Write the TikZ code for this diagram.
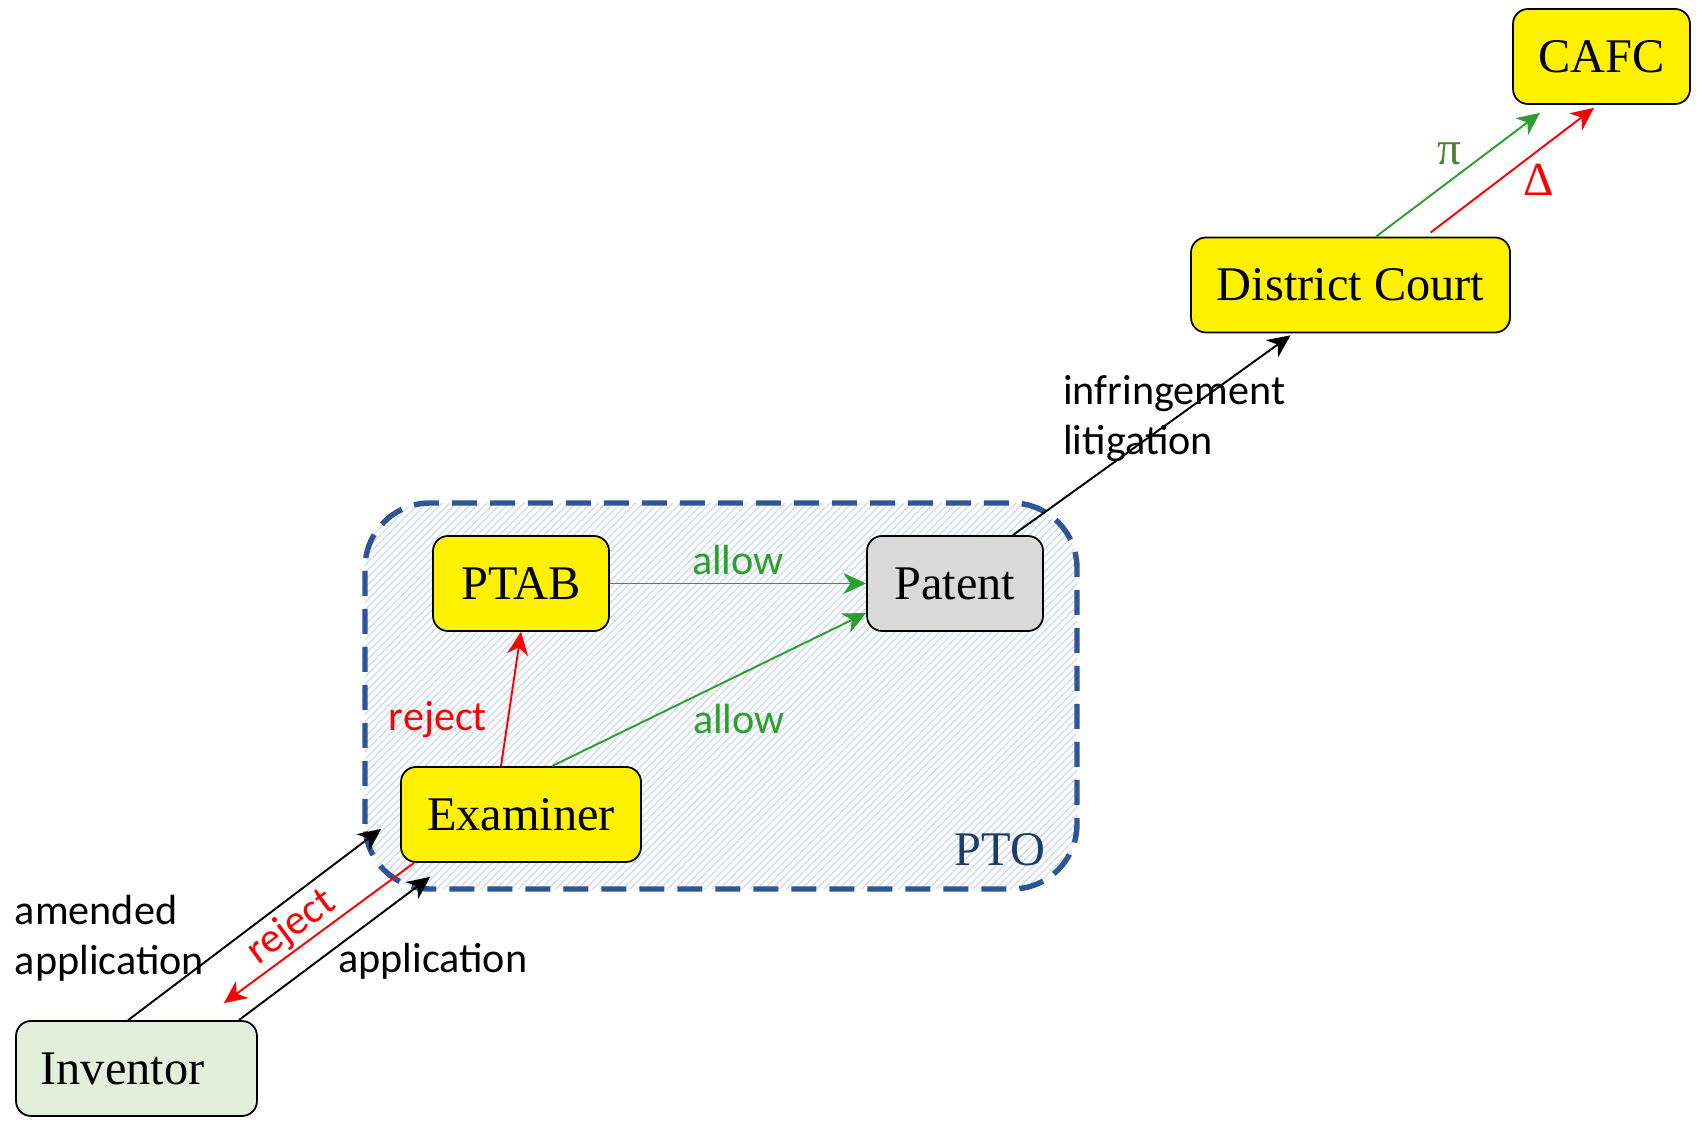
\documentclass[tikz,border=0pt]{standalone}
\usepackage{fontspec}
\setmainfont{Liberation Serif}
\newfontfamily\calfont{Carlito}
\usetikzlibrary{arrows.meta, positioning, patterns.meta}
\definecolor{ptoblue}{HTML}{2F5597}
\definecolor{ptonavy}{HTML}{1F3A6E}
\definecolor{hatchblue}{HTML}{CFDCF0}
\definecolor{okgreen}{HTML}{2CA02C}
\definecolor{pigreen}{HTML}{548235}
\definecolor{invgreen}{HTML}{E2EFDA}
\definecolor{patgray}{HTML}{D9D9D9}

\begin{document}
\begin{tikzpicture}[
        on grid, >={Stealth[length=13pt,width=12pt,inset=4pt]},
        box/.style={draw, line width=1pt, rounded corners=0.3cm, fill=yellow,
          minimum height=1.9cm, font=\fontsize{27.5}{33}\selectfont},
        lbl/.style={inner sep=0pt, font=\calfont\fontsize{24}{28.5}\selectfont},
        flow/.style={->, line width=1.1pt}
        ]
        \useasboundingbox (0,0) rectangle (34.06,22.48);

        % PTO region
        \path[fill=white, pattern={Lines[angle=45,distance=3pt,line width=0.8pt]}, pattern color=hatchblue,
          rounded corners=1.3cm] (7.3,4.7) rectangle (21.54,12.42);
        \draw[ptoblue, line width=3.1pt, dash pattern=on 0.5cm off 0.26cm, rounded corners=1.3cm]
          (7.3,4.7) rectangle (21.54,12.42);
        \node[text=ptonavy, font=\fontsize{27.5}{33}\selectfont] (pto) at (20.0,5.48) {PTO};

        \node[box, minimum width=4.8cm]                 (examiner) at (10.42,6.19)                           {Examiner};
        \node[box, minimum width=3.52cm]                (ptab)     [above=4.62cm of examiner]              {PTAB};
        \node[box, fill=patgray, minimum width=3.52cm]  (patent)   [right=8.68cm of ptab]                  {Patent};
        \node[box, fill=invgreen, minimum width=4.82cm] (inventor) [below left=5.08cm and 7.69cm of examiner] {Inventor\kern0.56cm\mbox{}};
        \node[box, minimum width=6.38cm]                (court)    [above right=5.97cm and 7.91cm of patent] {District Court};
        \node[box, minimum width=3.54cm]                (cafc)     [above right=4.57cm and 5.02cm of court]  {CAFC};

        \path[flow]
        ([xshift=2.26cm]inventor.north west) edge node [lbl, pos=0.43, anchor=east, align=left, xshift=-0.64cm] {amended\\application}
          ([shift={(-0.38cm,0.68cm)}]examiner.south west)
        ([xshift=-0.38cm]inventor.north east) edge node [lbl, pos=0.41, anchor=west, xshift=0.4cm] {application}
          ([shift={(0.6cm,-0.28cm)}]examiner.south west)
        ([xshift=-0.62cm]patent.north east) edge node [lbl, pos=0.585, anchor=west, align=left, xshift=-2.26cm] {infringement\\litigation}
          ([shift={(-1.2cm,-0.04cm)}]court.south);

        \path[flow, red]
        ([xshift=0.28cm]examiner.south west) edge node [lbl, pos=0.58, sloped, above=1pt] {reject}
          ([shift={(-0.68cm,0.34cm)}]inventor.north east)
        ([xshift=-0.4cm]examiner.north) edge node [lbl, pos=0.35, anchor=east, xshift=-0.4cm] {reject} (ptab.south)
        ([shift={(1.6cm,0.08cm)}]court.north) edge node [pos=0.665, yshift=-0.6cm, font=\fontsize{27}{32}\selectfont] {Δ}
          ([shift={(-0.15cm,-0.06cm)}]cafc.south);

        \path[flow, okgreen]
        (ptab) edge node [lbl, yshift=0.46cm] {allow} (patent)
        ([xshift=0.62cm]examiner.north) edge node [lbl, pos=0.595, yshift=-0.88cm] {allow} ([yshift=-0.59cm]patent.west)
        ([xshift=0.51cm]court.north) edge node [pos=0.445, yshift=0.56cm, text=pigreen, font=\fontsize{27}{32}\selectfont] {π}
          ([shift={(-1.23cm,-0.16cm)}]cafc.south);
      \end{tikzpicture}
\end{document}
